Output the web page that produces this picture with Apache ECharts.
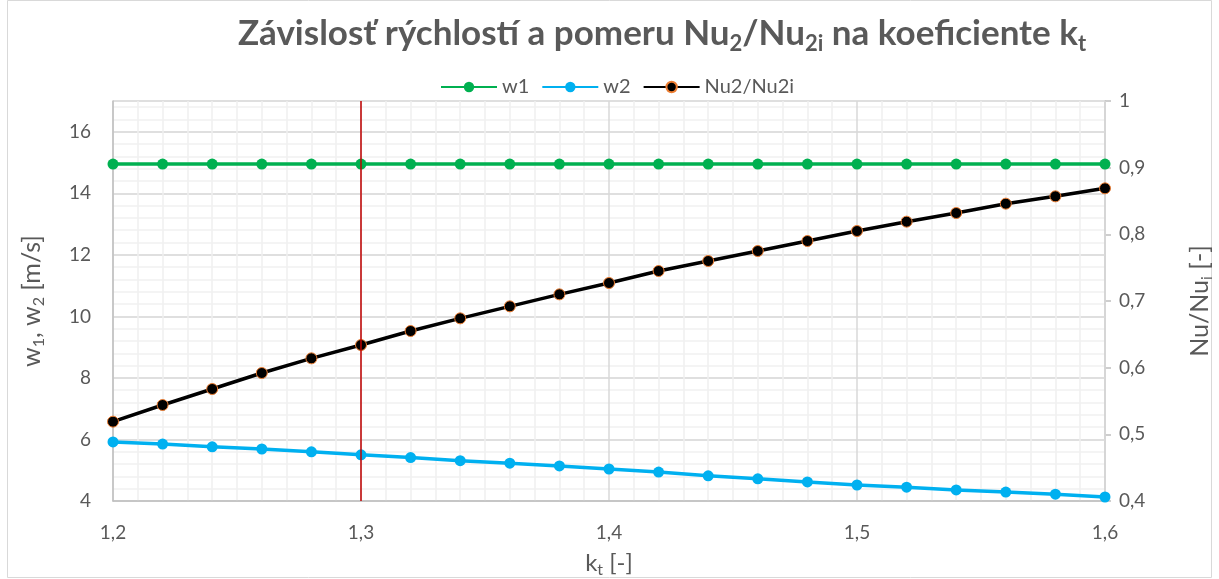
<!DOCTYPE html>
<html>
<head>
<meta charset="utf-8">
<script src="https://cdn.jsdelivr.net/npm/echarts@6/dist/echarts.min.js"></script>
<style>html,body{margin:0;padding:0;background:#fff}#c{width:1219px;height:579px}</style>
</head>
<body>
<div id="c"></div>
<script>
var kt = [1.20,1.22,1.24,1.26,1.28,1.30,1.32,1.34,1.36,1.38,1.40,1.42,1.44,1.46,1.48,1.50,1.52,1.54,1.56,1.58,1.60];
var w1 = [14.95,14.95,14.95,14.95,14.95,14.95,14.95,14.95,14.95,14.95,14.95,14.95,14.95,14.95,14.95,14.95,14.95,14.95,14.95,14.95,14.95];
var w2 = [5.92,5.85,5.76,5.69,5.60,5.50,5.41,5.31,5.23,5.14,5.04,4.94,4.82,4.72,4.62,4.52,4.45,4.36,4.29,4.22,4.13];
var nuRatio = [0.519,0.544,0.568,0.592,0.614,0.634,0.655,0.674,0.692,0.710,0.727,0.745,0.760,0.775,0.790,0.805,0.819,0.832,0.846,0.857,0.869];
var markX = 1.3;
var leftTicks = {min:4, max:17, interval:2};
var rightTicks = {min:0.4, max:1, interval:0.1};
var xTicks = {min:1.2, max:1.6, interval:0.1};

var txt = '#595959';
var font = 'Lato';
function pairs(ys){ return kt.map(function(x,i){ return [x, ys[i]]; }); }
function comma(v, d){ return v.toFixed(d).replace('.', ','); }

var chart = echarts.init(document.getElementById('c'), null, {renderer:'canvas'});
chart.setOption({
  backgroundColor:'#fff',
  animation:false,
  textStyle:{fontFamily:font},
  graphic:[{type:'rect', shape:{x:7.5,y:0.5,width:1204,height:577}, style:{fill:'none', stroke:'#d9d9d9', lineWidth:1}, z:-10}],
  title:{
    text:'Závislosť rýchlostí a pomeru Nu{s|2}/Nu{s|2i} na koeficiente k{s|t}',
    left:657, textAlign:'center', top:8,
    textStyle:{fontFamily:font, fontSize:35, fontWeight:'bold', color:txt, lineHeight:42,
      rich:{s:{fontFamily:font, fontSize:22, fontWeight:'bold', color:txt, lineHeight:22, verticalAlign:'bottom'}}}
  },
  legend:{
    top:72, left:435, itemWidth:56, itemHeight:13, itemGap:12,
    textStyle:{fontFamily:font, fontSize:20, color:txt},
    data:['w1','w2','Nu2/Nu2i']
  },
  grid:{left:113, right:114, top:101, bottom:78, containLabel:false, outerBoundsMode:'none'},
  xAxis:{
    type:'value', min:xTicks.min, max:xTicks.max, interval:xTicks.interval,
    name:'k{s|t} [-]', nameLocation:'middle', nameGap:47,
    nameTextStyle:{fontFamily:font, fontSize:24, color:txt, lineHeight:30, rich:{s:{fontFamily:font, fontSize:16, color:txt, lineHeight:16, verticalAlign:'bottom'}}},
    axisLine:{show:true, onZero:false, lineStyle:{color:'#bfbfbf', width:1.5}},
    axisTick:{show:false},
    axisLabel:{fontFamily:font, fontSize:19, color:txt, margin:22, formatter:function(v){return comma(v,1);}},
    splitLine:{show:true, lineStyle:{color:'#d9d9d9', width:1.5}},
    minorTick:{show:false, splitNumber:10},
    minorSplitLine:{show:true, lineStyle:{color:'#f0f0f0', width:1.5}},
    z:1
  },
  yAxis:[
    {
      type:'value', position:'left', min:leftTicks.min, max:leftTicks.max, interval:leftTicks.interval,
      name:'w{s|1}, w{s|2} [m/s]', nameLocation:'middle', nameGap:66, nameRotate:90,
      nameTextStyle:{fontFamily:font, fontSize:25, color:txt, lineHeight:30, rich:{s:{fontFamily:font, fontSize:16, color:txt, lineHeight:16, verticalAlign:'bottom'}}},
      axisLine:{show:true, lineStyle:{color:'#bfbfbf', width:1.5}},
      axisTick:{show:false},
      axisLabel:{fontFamily:font, fontSize:19, color:txt, margin:22, formatter:function(v){return v>=17?'':String(v);}},
      splitLine:{show:true, lineStyle:{color:'#d9d9d9', width:1.5}},
      z:1
    },
    {
      type:'value', position:'right', min:rightTicks.min, max:rightTicks.max, interval:rightTicks.interval,
      name:'Nu/Nu{s|i} [-]', nameLocation:'middle', nameGap:80, nameRotate:90,
      nameTextStyle:{fontFamily:font, fontSize:25, color:txt, lineHeight:30, rich:{s:{fontFamily:font, fontSize:16, color:txt, lineHeight:16, verticalAlign:'bottom'}}},
      axisLine:{show:true, lineStyle:{color:'#bfbfbf', width:1.5}},
      axisTick:{show:true, inside:false, length:6, lineStyle:{color:'#bfbfbf', width:1.5}},
      axisLabel:{fontFamily:font, fontSize:19, color:txt, margin:14, formatter:function(v){return Math.abs(v-1)<1e-9?'1':comma(v,1);}},
      splitLine:{show:false}
    },
    {
      type:'value', position:'left', min:leftTicks.min, max:leftTicks.max, interval:0.4,
      axisLine:{show:false}, axisTick:{show:false}, axisLabel:{show:false},
      splitLine:{show:true, lineStyle:{color:'#f0f0f0', width:1.5}},
      z:0
    }
  ],
  series:[
    {
      name:'w1', type:'line', yAxisIndex:0, data:pairs(w1),
      symbol:'circle', symbolSize:11,
      lineStyle:{color:'#00b050', width:3.5}, itemStyle:{color:'#00b050'},
      markLine:{silent:true, symbol:'none', label:{show:false},
        lineStyle:{color:'#c00000', width:1.5, type:'solid'}, data:[{xAxis:markX}]},
      z:3
    },
    {
      name:'w2', type:'line', yAxisIndex:0, data:pairs(w2),
      symbol:'circle', symbolSize:11,
      lineStyle:{color:'#00b0f0', width:3.5}, itemStyle:{color:'#00b0f0'},
      z:3
    },
    {
      name:'Nu2/Nu2i', type:'line', yAxisIndex:1, data:pairs(nuRatio),
      symbol:'circle', symbolSize:11,
      lineStyle:{color:'#000000', width:3.5}, itemStyle:{color:'#000000', borderColor:'#ed7d31', borderWidth:1},
      z:3
    }
  ]
});
</script>
</body>
</html>
